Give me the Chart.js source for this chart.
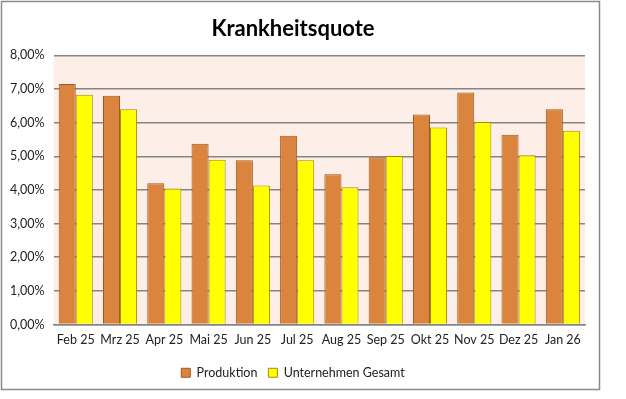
<!DOCTYPE html>
<html>
<head>
<meta charset="utf-8">
<script src="https://cdn.jsdelivr.net/npm/chart.js@4/dist/chart.umd.min.js"></script>
<style>
    html, body { margin: 0; padding: 0; background: #fff; }
    #wrap { width: 626px; height: 399px; position: relative; }
</style>
</head>
<body>
<div id="wrap"><canvas id="kqChart" width="626" height="399"></canvas></div>
<script>
    // Monatsdaten
    const months = ['Feb 25', 'Mrz 25', 'Apr 25', 'Mai 25', 'Jun 25', 'Jul 25', 'Aug 25', 'Sep 25', 'Okt 25', 'Nov 25', 'Dez 25', 'Jan 26'];
    const produktion = [7.15, 6.80, 4.20, 5.37, 4.88, 5.61, 4.47, 4.97, 6.24, 6.90, 5.64, 6.40];
    const gesamt = [6.83, 6.40, 4.04, 4.90, 4.13, 4.88, 4.08, 5.01, 5.86, 6.02, 5.03, 5.76];
    const yTicks = [0, 1, 2, 3, 4, 5, 6, 7, 8];

    const fontFamily = 'Lato, "Open Sans", sans-serif';

    // Plot background + outer frame
    const frameBg = {
        id: 'frameBg',
        beforeDraw(chart) {
            const ctx = chart.ctx;
            const a = chart.chartArea;
            ctx.save();
            ctx.fillStyle = '#fdeee8';
            ctx.fillRect(a.left, a.top, a.right - a.left, a.bottom - a.top);
            ctx.strokeStyle = '#8a8a8a';
            ctx.lineWidth = 1.5;
            ctx.strokeRect(1.5, 1.5, 598, 388);
            ctx.restore();
        }
    };

    const ctx = document.getElementById('kqChart').getContext('2d');
    const kqChart = new Chart(ctx, {
        type: 'bar',
        data: {
            labels: months,
            datasets: [{
                label: 'Produktion',
                data: produktion,
                backgroundColor: '#db843d',
                borderColor: '#a0581c',
                borderWidth: 1
            }, {
                label: 'Unternehmen Gesamt',
                data: gesamt,
                backgroundColor: '#ffff00',
                borderColor: '#a88a00',
                borderWidth: 1
            }]
        },
        options: {
            responsive: false,
            animation: false,
            layout: {
                padding: { left: 1, right: 41, top: 12, bottom: 10 }
            },
            datasets: {
                bar: {
                    categoryPercentage: 0.77,
                    barPercentage: 1.0
                }
            },
            plugins: {
                title: {
                    display: true,
                    text: 'Krankheitsquote',
                    color: '#000',
                    font: { family: fontFamily, size: 22, weight: 'bold' },
                    padding: { top: 4, bottom: 13 }
                },
                legend: {
                    position: 'bottom',
                    labels: {
                        color: '#222',
                        boxWidth: 9,
                        boxHeight: 9,
                        padding: 11,
                        font: { family: fontFamily, size: 12.5 }
                    }
                },
                tooltip: { enabled: false }
            },
            scales: {
                x: {
                    grid: { display: false, drawTicks: false },
                    border: { color: '#858585', width: 1.5 },
                    ticks: {
                        color: '#222',
                        padding: 8,
                        autoSkip: false,
                        maxRotation: 0,
                        font: { family: fontFamily, size: 12.5 }
                    }
                },
                y: {
                    min: 0,
                    max: 8,
                    afterBuildTicks: function(axis) {
                        axis.ticks = yTicks.map(v => ({ value: v }));
                    },
                    grid: { color: '#858585', lineWidth: 1.5, drawTicks: false },
                    border: { display: false },
                    ticks: {
                        color: '#222',
                        padding: 9,
                        font: { family: fontFamily, size: 12.5 },
                        callback: function(value) {
                            return value.toFixed(2).replace('.', ',') + '%';
                        }
                    }
                }
            }
        },
        plugins: [frameBg]
    });
</script>
</body>
</html>
